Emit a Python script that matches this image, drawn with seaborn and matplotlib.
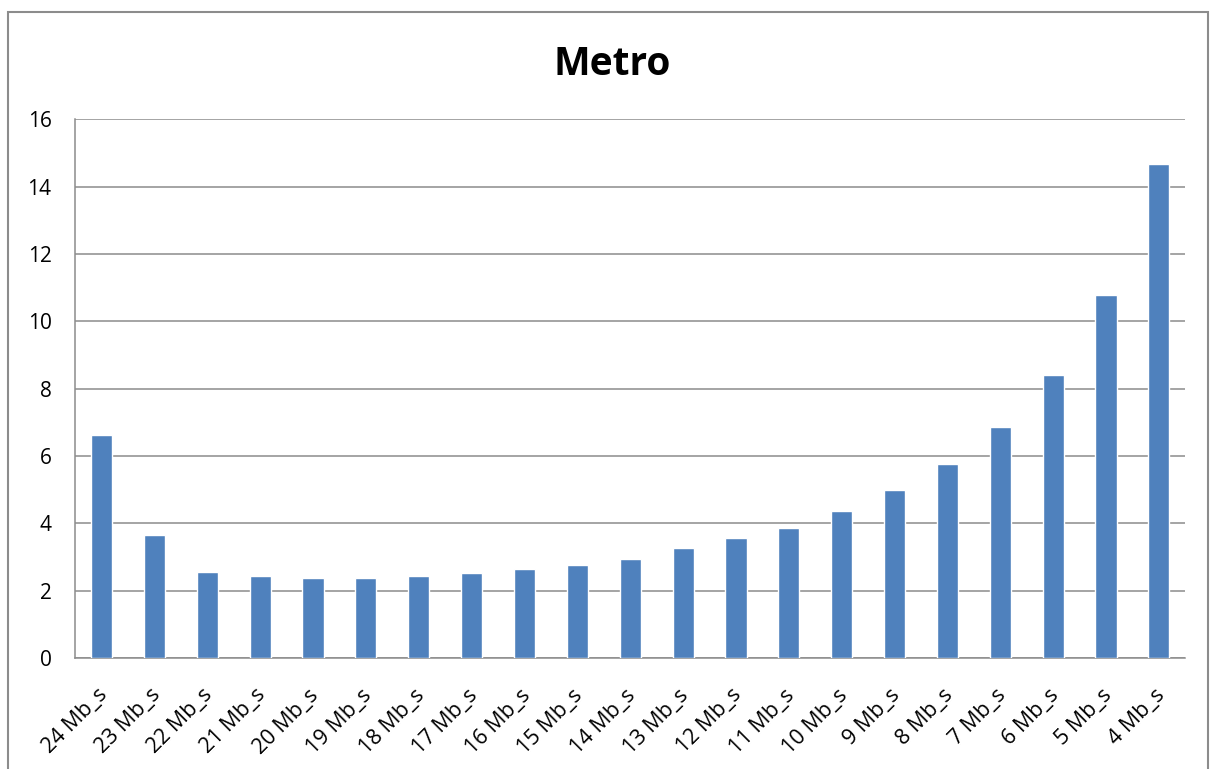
import seaborn as sns
import numpy as np
import matplotlib.pyplot as plt
import matplotlib.patches as mpatches
import matplotlib.transforms as mtransforms
import pandas as pd

# categories and values
speeds = ['24 Mb_s', '23 Mb_s', '22 Mb_s', '21 Mb_s', '20 Mb_s', '19 Mb_s', '18 Mb_s',
          '17 Mb_s', '16 Mb_s', '15 Mb_s', '14 Mb_s', '13 Mb_s', '12 Mb_s', '11 Mb_s',
          '10 Mb_s', '9 Mb_s', '8 Mb_s', '7 Mb_s', '6 Mb_s', '5 Mb_s', '4 Mb_s']
metro = [6.62, 3.65, 2.55, 2.43, 2.37, 2.37, 2.43, 2.52, 2.64, 2.76, 2.94,
         3.26, 3.56, 3.86, 4.36, 4.99, 5.76, 6.86, 8.40, 10.77, 14.66]
yticks = [0, 2, 4, 6, 8, 10, 12, 14, 16]

df = pd.DataFrame({'speed': speeds, 'value': metro})

sns.set_style('white')
plt.rcParams['font.family'] = ['Open Sans', 'DejaVu Sans']
plt.rcParams['text.color'] = 'black'

fig = plt.figure(figsize=(12.12, 7.69), dpi=100)
ax = fig.add_axes([0.062, 0.144, 0.916, 0.701])

sns.barplot(data=df, x='speed', y='value', color='#4F81BD', width=0.4,
            saturation=1, ax=ax, zorder=3)

ax.set_ylim(0, 16)
ax.set_xlim(-0.5, len(speeds) - 0.5)
ax.set_yticks(yticks)
ax.set_yticklabels([str(t) for t in yticks], fontsize=15, color='black')
ax.yaxis.grid(True, color='#8C8C8C', linewidth=1.1, zorder=0)
ax.set_axisbelow(True)

# tick marks sit between the categories
ax.set_xticks(range(len(speeds)))
ax.set_xticklabels(speeds, rotation=45, ha='right', rotation_mode='anchor',
                   fontsize=15.5, color='black')
ax.tick_params(axis='x', length=0, pad=19)
shift = mtransforms.ScaledTranslation(-5 / 100, 0, fig.dpi_scale_trans)
for lab in ax.get_xticklabels():
    lab.set_transform(lab.get_transform() + shift)
ax.set_xticks(np.arange(-0.5, len(speeds)), minor=True)
ax.tick_params(axis='x', which='minor', length=5.5, color='#8C8C8C', width=1.1, direction='out')
ax.tick_params(axis='y', length=6, color='#8C8C8C', width=1.1, direction='out', pad=11)

for s in ['top', 'right']:
    ax.spines[s].set_visible(False)
for s in ['left', 'bottom']:
    ax.spines[s].set_color('#8C8C8C')
    ax.spines[s].set_linewidth(1.1)

ax.set_xlabel('')
ax.set_ylabel('')
fig.text(0.505, 1 - 75 / 769, 'Metro', fontsize=28, fontweight='bold',
         ha='center', va='baseline', color='black')

# outer chart frame
frame = mpatches.Rectangle((0.007, -0.02), 0.99, 1.005, transform=fig.transFigure,
                           fill=False, edgecolor='#8C8C8C', linewidth=1.5)
fig.patches.append(frame)

fig.savefig('out.png', dpi=100)
